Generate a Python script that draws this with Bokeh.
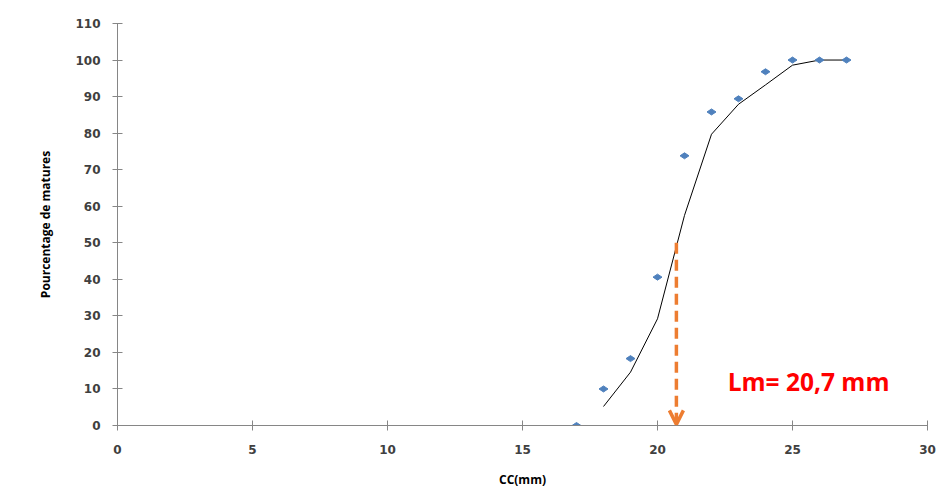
import math
from bokeh.plotting import figure
from bokeh.models import Range1d, FixedTicker, Arrow, OpenHead, Label
from bokeh.embed import file_html
from bokeh.resources import INLINE

# Observed data
cc = [17, 18, 19, 20, 21, 22, 23, 24, 25, 26, 27]
pct = [0, 10, 18.3, 40.6, 73.8, 85.8, 89.4, 96.8, 100, 100, 100]

# Fitted curve
fit_x = [18, 19, 20, 21, 22, 23, 24, 25, 26, 27]
fit_y = [5.2, 14.6, 29.2, 57.5, 79.7, 87.9, 93.2, 98.6, 100, 100]

lm = 20.7
lm_label = "Lm= 20,7 mm"
x_ticks = [0, 5, 10, 15, 20, 25, 30]
y_ticks = [0, 10, 20, 30, 40, 50, 60, 70, 80, 90, 100, 110]

p = figure(width=940, height=495, output_backend="svg", toolbar_location=None,
           x_range=Range1d(0, 30), y_range=Range1d(0, 110),
           min_border_left=117, min_border_right=13, min_border_top=23, min_border_bottom=70)
p.outline_line_color = None
p.xgrid.visible = False
p.ygrid.visible = False

for ax in (p.xaxis[0], p.yaxis[0]):
    ax.axis_line_color = "#868686"
    ax.major_tick_line_color = "#868686"
    ax.minor_tick_line_color = None
    ax.major_tick_in = 5
    ax.major_tick_out = 5
    ax.major_label_text_font = "DejaVu Sans"
    ax.major_label_text_font_size = "12px"
    ax.major_label_text_font_style = "bold"
    ax.major_label_text_color = "#404040"
    ax.axis_label_text_font = "Open Sans"
    ax.axis_label_text_font_size = "12px"
    ax.axis_label_text_font_style = "bold"
    ax.axis_label_text_color = "#000000"

p.xaxis.ticker = FixedTicker(ticks=x_ticks)
p.yaxis.ticker = FixedTicker(ticks=y_ticks)
p.xaxis.axis_label = "CC(mm)"
p.yaxis.axis_label = "Pourcentage de matures"
p.xaxis.major_label_standoff = 14
p.yaxis.major_label_standoff = 12
p.xaxis.axis_label_standoff = 14
p.yaxis.axis_label_standoff = 18

p.line(fit_x, fit_y, line_color="#000000", line_width=1)
p.scatter(cc, pct, marker="diamond", size=9, angle=math.pi / 2,
          fill_color="#4F81BD", line_color="#4F81BD")

p.add_layout(Arrow(end=OpenHead(size=14, line_color="#ED7D31", line_width=3.5),
                   x_start=lm, y_start=50, x_end=lm, y_end=0.3,
                   line_color="#ED7D31", line_width=3.5, line_dash="11 6"))

p.add_layout(Label(x=22.6, y=12, text=lm_label, text_color="#FF0000", text_font="Open Sans",
                   text_font_size="24.5px", text_font_style="bold", text_baseline="middle"))

open("out.html", "w").write(file_html(p, INLINE))
